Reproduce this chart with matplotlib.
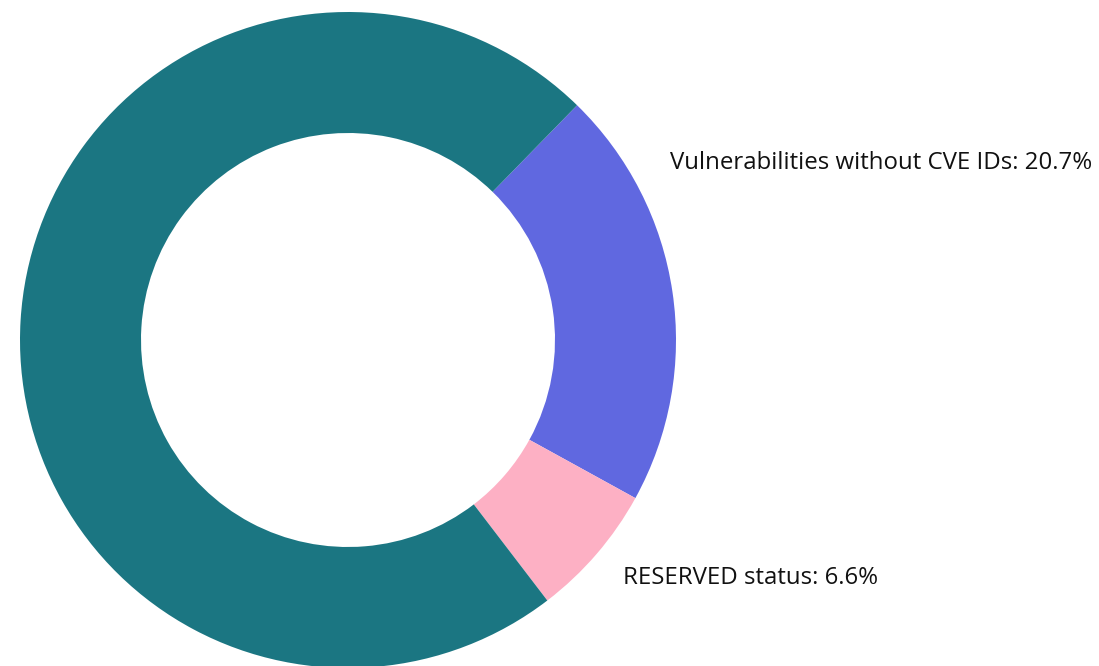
import matplotlib

matplotlib.use("Agg")
import matplotlib.pyplot as plt

labels = ["Vulnerabilities without CVE IDs", "RESERVED status", "Other"]
shares = [20.7, 6.6, 72.7]
colors = ["#6068e0", "#fdb0c4", "#1b7682"]
show_label = [True, True, False]

plt.rcParams["font.family"] = ["Open Sans", "DejaVu Sans"]

fig = plt.figure(figsize=(10.99, 6.66), dpi=100)
ax = fig.add_axes([0, 0, 1, 1])

ax.pie(
    shares,
    colors=colors,
    startangle=45.7,
    counterclock=False,
    center=(348, 326),
    radius=328,
    wedgeprops=dict(width=121, linewidth=0),
    frame=True,
)
ax.set_xlim(0, 1099)
ax.set_ylim(0, 666)
ax.set_aspect("equal")
ax.axis("off")

label_pos = [(670, 503), (623, 88)]
for (x, y), name, val, show in zip(label_pos, labels, shares, show_label):
    if show:
        ax.text(x, y, f"{name}: {val}%", ha="left", va="center",
                fontsize=17.3, color="#111111")

fig.savefig("out.png", dpi=100)
